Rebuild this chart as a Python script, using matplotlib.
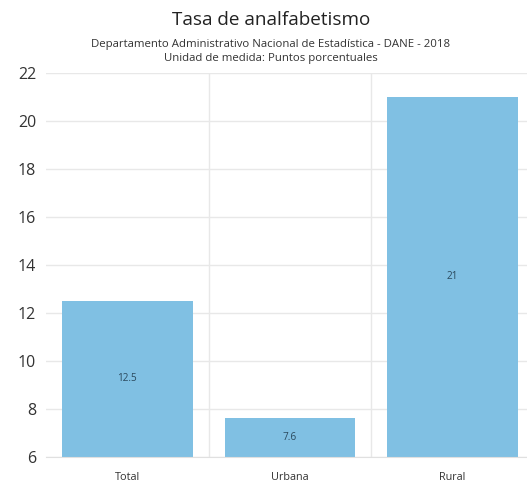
import matplotlib.pyplot as plt

plt.rcParams['font.family'] = ['Open Sans', 'DejaVu Sans']

# data
categories = ["Total", "Urbana", "Rural"]
values = [12.5, 7.6, 21]
y_ticks = [6, 8, 10, 12, 14, 16, 18, 20, 22]

fig = plt.figure(figsize=(5.27, 4.86), dpi=100)
ax = fig.add_axes([0.0873, 0.06, 0.926, 0.79])

x = range(len(categories))
bars = ax.bar(x, values, width=0.805, color="#80c0e3", zorder=2)
for b, v in zip(bars, values):
    ax.text(b.get_x() + b.get_width() / 2, (6 + v) / 2, f"{v:g}",
            ha="center", va="center", fontsize=7.2, color="#2b4a5e", zorder=3)

ax.set_ylim(6, 22)
ax.set_xlim(-0.5, 2.5)
ax.set_yticks(y_ticks)
ax.set_xticks(list(x))
ax.set_xticklabels(categories, fontsize=7.8, color="#333333")
ax.tick_params(axis="y", labelsize=11.5, colors="#333333", length=0, pad=7)
ax.tick_params(axis="x", length=0, pad=11)

ax.grid(axis="y", color="#e8e8e8", linewidth=1, zorder=0)
for bx in [0.5, 1.5]:
    ax.axvline(bx, color="#e8e8e8", linewidth=1, zorder=0)
for s in ["top", "right", "left"]:
    ax.spines[s].set_visible(False)
ax.spines["bottom"].set_color("#e0e0e0")

fig.text(0.514, 0.958, "Tasa de analfabetismo", ha="center", va="center",
         fontsize=13.6, color="#222222")
fig.text(0.514, 0.909, "Departamento Administrativo Nacional de Estadística - DANE - 2018",
         ha="center", va="center", fontsize=8.2, color="#333333")
fig.text(0.514, 0.879, "Unidad de medida: Puntos porcentuales",
         ha="center", va="center", fontsize=8.2, color="#333333")

fig.savefig("out.png", dpi=100)
